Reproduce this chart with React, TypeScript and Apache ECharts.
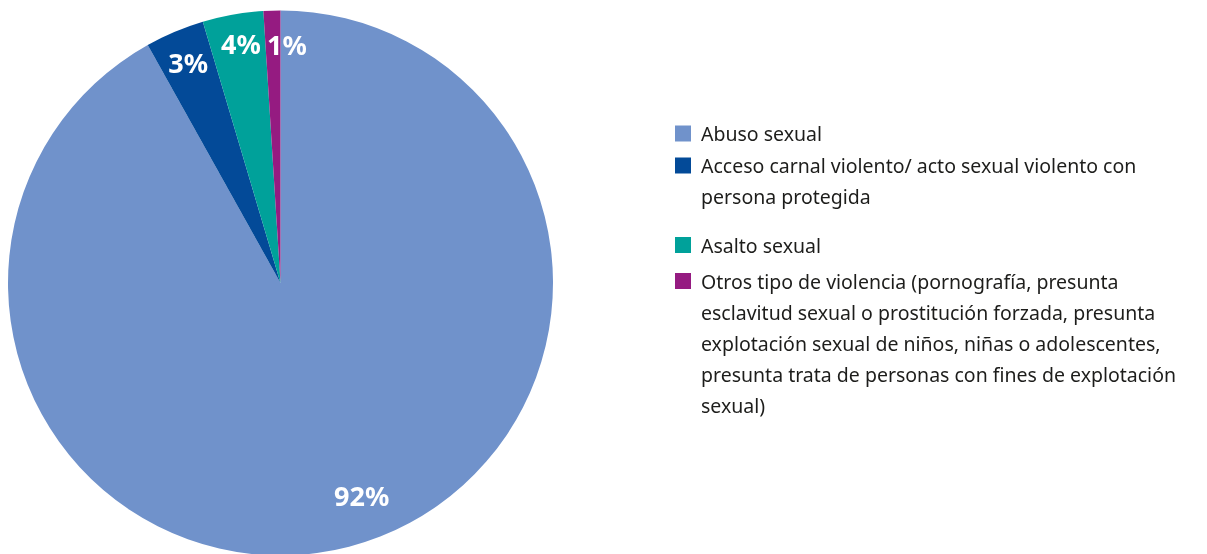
import React, { useEffect, useRef } from "react";
import * as echarts from "echarts";

const categories = [
  "Abuso sexual",
  "Acceso carnal violento/ acto sexual violento con\npersona protegida",
  "Asalto sexual",
  "Otros tipo de violencia (pornografía, presunta\nesclavitud sexual o prostitución forzada, presunta\nexplotación sexual de niños, niñas o adolescentes,\npresunta trata de personas con fines de explotación\nsexual)",
];
const values = [91.9, 3.5, 3.6, 1.0];
const valueLabels = ["92%", "3%", "4%", "1%"];

const colors = ["#7092CB", "#034A98", "#00A19A", "#951B81"];
const labelOffsets: [number, number][] = [[20, -22], [2, 3], [3, 0], [14, 4]];
const legendIconCenters = [133.5, 165.5, 245, 281];

export default function App() {
  const ref = useRef<HTMLDivElement>(null);
  useEffect(() => {
    if (!ref.current) return;
    const chart = echarts.init(ref.current, null, { renderer: "svg" });
    const LH = 31;
    const R = 272.5;
    const center = [280.5, 283];
    const legends = categories.map((name, i) => {
      const n = name.split("\n").length;
      return {
        show: true,
        orient: "vertical",
        left: 675,
        top: legendIconCenters[i] - ((2 * n - 1) * LH) / 2,
        padding: 0,
        itemGap: 0,
        itemWidth: 16,
        itemHeight: 16,
        icon: "rect",
        selectedMode: false,
        data: [name],
        formatter: (nm: string) => "\u00a0\n".repeat(n - 1) + nm,
        textStyle: {
          fontFamily: "Noto Sans",
          fontSize: 19.5,
          color: "#1d1d1b",
          lineHeight: LH,
          padding: [0, 0, 0, 5],
        },
      };
    });
    chart.setOption({
      animation: false,
      color: colors,
      legend: legends,
      series: [
        {
          type: "pie",
          center,
          radius: [0, R],
          startAngle: 90,
          clockwise: true,
          silent: true,
          label: { show: false },
          labelLine: { show: false },
          itemStyle: { borderWidth: 0 },
          data: categories.map((name, i) => ({ name, value: values[i] })),
        },
        {
          type: "pie",
          center,
          radius: [0.76 * R, R],
          startAngle: 90,
          clockwise: true,
          silent: true,
          legendHoverLink: false,
          itemStyle: { color: "rgba(0,0,0,0)", borderWidth: 0 },
          label: {
            show: true,
            position: "inside",
            color: "#ffffff",
            fontFamily: "Noto Sans",
            fontWeight: "bold",
            fontSize: 27,
          },
          labelLine: { show: false },
          data: categories.map((name, i) => ({
            name,
            value: values[i],
            label: { formatter: valueLabels[i], offset: labelOffsets[i] },
          })),
        },
      ],
    });
    return () => chart.dispose();
  }, []);
  return (
    <div
      ref={ref}
      style={{ position: "fixed", left: 0, top: 0, width: 1207, height: 554 }}
    />
  );
}
